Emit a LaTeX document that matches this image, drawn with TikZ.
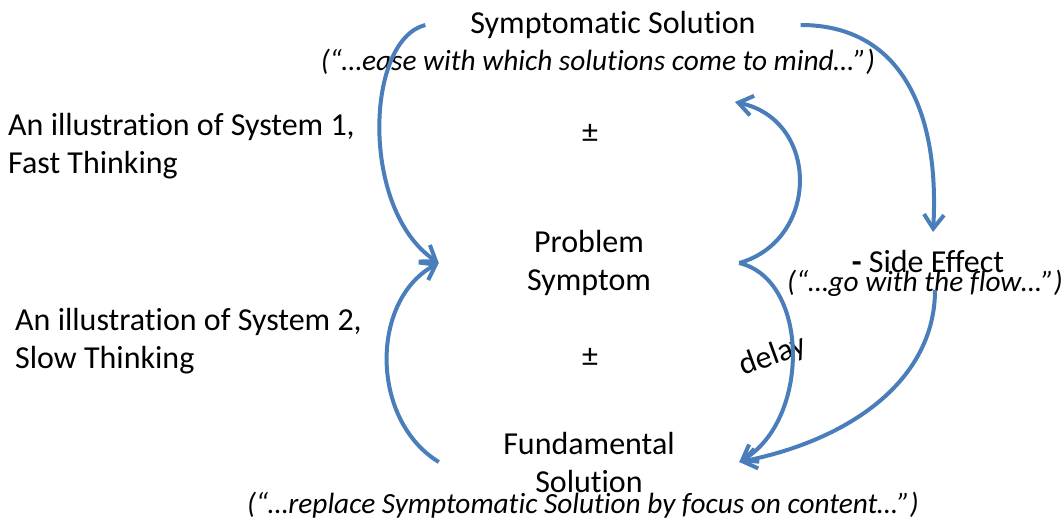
\documentclass[tikz,border=0pt]{standalone}
\usepackage{fontspec}
\setmainfont{Carlito}[RawFeature={-liga;-clig;-calt;-dlig}]
\usetikzlibrary{arrows.meta}
\definecolor{linkblue}{HTML}{4A7EBB}
\begin{document}
\begin{tikzpicture}[x=1pt,y=-1pt,
  main/.style={font=\fontsize{32}{38}\selectfont, align=center, inner sep=0pt},
  sub/.style={font=\fontsize{29.3}{35}\selectfont\itshape, inner sep=0pt},
  link/.style={draw=linkblue, line width=4pt, -{Straight Barb[length=14pt,width=20pt]}}]
\useasboundingbox (0,0) rectangle (1064,522);
\node[main, minimum width=375pt] (ss) at (613,25) {Symptomatic Solution};
\node[sub] (ssq) at (598,62) {(“…ease with which solutions come to mind…”)};
\node[main, minimum width=300pt] (ps) at (589,263) {Problem\\Symptom};
\node[main, minimum width=300pt] (fs) at (589,462) {Fundamental\\Solution};
\node[sub] (fsq) at (583,505) {(“…replace Symptomatic Solution by focus on content…”)};
\node[main] (se) at (928,262) {\textbf{-} Side Effect};
\node[sub] (seq) at (925,283) {(“…go with the flow…”)};
\node[main] (pm1) at (590,133) {±};
\node[main] (pm2) at (590,357) {±};
\node[main, anchor=west, align=left] (s1) at (8,146) {An illustration of System 1,\\Fast Thinking};
\node[main, anchor=west, align=left] (s2) at (15,341) {An illustration of System 2,\\Slow Thinking};
\node[main, rotate=20] (delay) at (773,356) {delay};
\coordinate (sein) at (933,232);
\coordinate (seout) at (935,290);
\coordinate (ssin) at (735,102);
\draw[link] (ss.west) .. controls (365,40) and (360,210) .. (ps.west);
\draw[link] (fs.west) .. controls (370,420) and (370,300) .. (ps.west);
\draw[link] (ps.east) .. controls (820,240) and (820,120) .. (ssin);
\draw[link] (ps.east) .. controls (810,280) and (810,420) .. (fs.east);
\draw[link] (ss.east) .. controls (900,25) and (940,110) .. (sein);
\draw[link] (seout) .. controls (935,380) and (850,440) .. (fs.east);
\end{tikzpicture}
\end{document}
